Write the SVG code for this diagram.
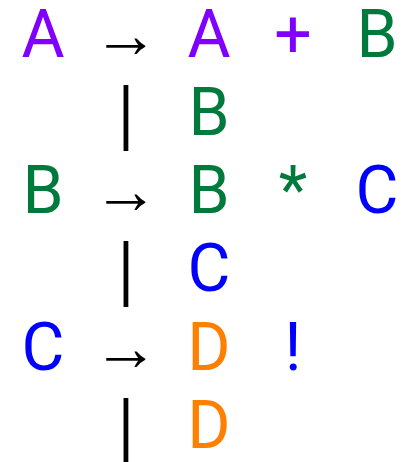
<svg xmlns="http://www.w3.org/2000/svg" width="409" height="462" viewBox="0 0 409 462">
<style>
text{font-family:Roboto,sans-serif;font-size:66px;text-anchor:middle}
.ar{font-family:"Noto Sans",sans-serif}
.p{fill:#8000ff}.g{fill:#00793c}.b{fill:#0000ff}.o{fill:#ff8000}.k{fill:#000}
</style>
<rect width="409" height="462" fill="#fff"/>
<g id="row1">
<text class="p" x="43" y="57">A</text>
<text class="k ar" x="126" y="57">→</text>
<text class="p" x="209" y="57">A</text>
<text class="p" x="293" y="57">+</text>
<text class="g" x="377" y="57">B</text>
</g>
<g id="row2">
<text class="k ar" x="126" y="135">|</text>
<text class="g" x="209" y="135">B</text>
</g>
<g id="row3">
<text class="g" x="43" y="213">B</text>
<text class="k ar" x="126" y="213">→</text>
<text class="g" x="209" y="213">B</text>
<text class="g" x="293" y="213">*</text>
<text class="b" x="377" y="213">C</text>
</g>
<g id="row4">
<text class="k ar" x="126" y="291">|</text>
<text class="b" x="209" y="291">C</text>
</g>
<g id="row5">
<text class="b" x="43" y="370">C</text>
<text class="k ar" x="126" y="370">→</text>
<text class="o" x="209" y="370">D</text>
<text class="b" x="293" y="370">!</text>
</g>
<g id="row6">
<text class="k ar" x="126" y="448">|</text>
<text class="o" x="209" y="448">D</text>
</g>
</svg>
